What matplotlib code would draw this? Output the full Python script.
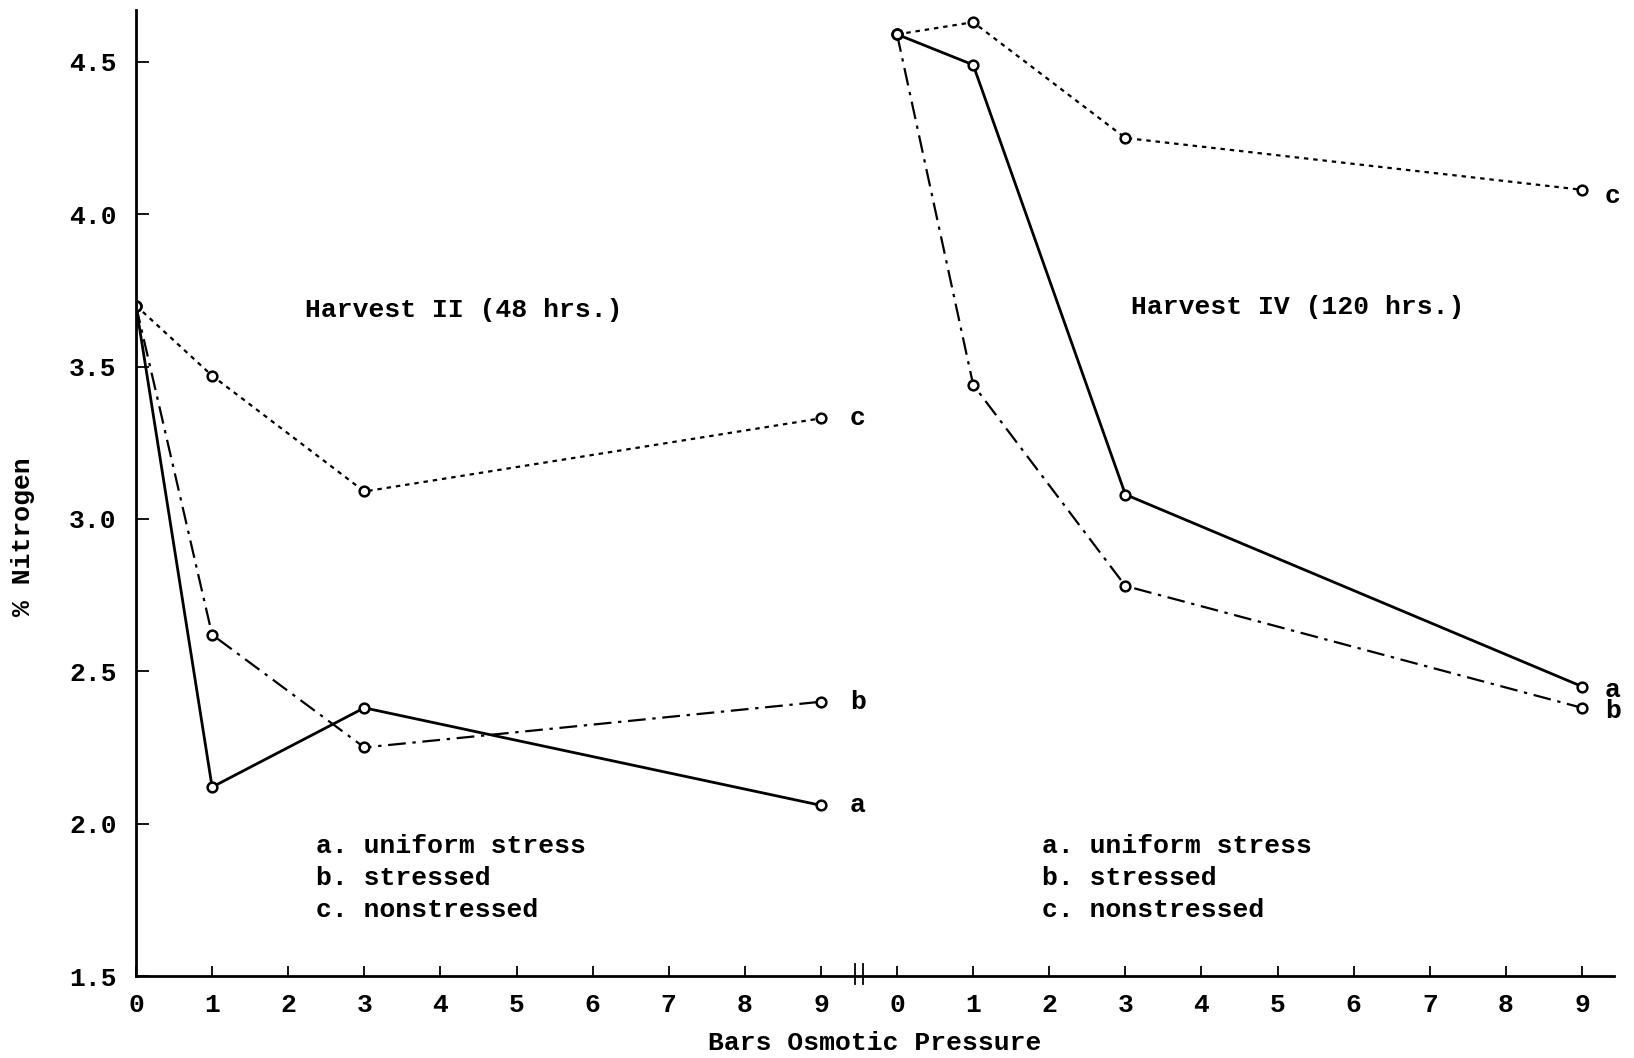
import matplotlib
matplotlib.use("Agg")
import matplotlib.pyplot as plt
import matplotlib.transforms as mtransforms

# ---- data ----
pressure = [0, 1, 3, 9]
h2_uniform = [3.70, 2.12, 2.38, 2.06]
h2_stressed = [3.70, 2.62, 2.25, 2.40]
h2_nonstressed = [3.70, 3.47, 3.09, 3.33]
h4_uniform = [4.59, 4.49, 3.08, 2.45]
h4_stressed = [4.59, 3.44, 2.78, 2.38]
h4_nonstressed = [4.59, 4.63, 4.25, 4.08]
tick_labels = [str(i) for i in range(10)]
legend_lines = ["a. uniform stress", "b. stressed", "c. nonstressed"]
panel_titles = ["Harvest II (48 hrs.)", "Harvest IV (120 hrs.)"]
panel_offset = 10  # right panel x shift

FONT = "Liberation Mono"
plt.rcParams['font.family'] = [FONT, 'DejaVu Sans Mono']
plt.rcParams['font.weight'] = 'bold'
plt.rcParams['axes.labelweight'] = 'bold'
FS = 19

fig = plt.figure(figsize=(16.34, 10.58), dpi=100)
ax = fig.add_axes([136/1634, (1058-976)/1058, (1614-136)/1634, (976-10)/1058])

ax.set_xlim(0, 19.42)
ax.set_ylim(1.5, 4.67)

mk = dict(marker='o', markersize=7, markerfacecolor='white', markeredgecolor='black',
          markeredgewidth=1.8, color='black')

for off, (ua, st, ns) in [(0, (h2_uniform, h2_stressed, h2_nonstressed)),
                          (panel_offset, (h4_uniform, h4_stressed, h4_nonstressed))]:
    xs = [p + off for p in pressure]
    ax.plot(xs, ns, linestyle=(0, (2.0, 2.2)), linewidth=1.6, **mk)
    ax.plot(xs, st, linestyle=(0, (8, 3, 1.5, 3)), linewidth=1.6, **mk)
    ax.plot(xs, ua, linestyle='-', linewidth=2.0, **mk)

# end labels
ax.text(9 + 0.38, h2_nonstressed[-1], "c", fontsize=FS, va='center', ha='left')
ax.text(9 + 0.38, h2_stressed[-1], "b", fontsize=FS, va='center', ha='left')
ax.text(9 + 0.38, h2_uniform[-1], "a", fontsize=FS, va='center', ha='left')
ax.text(19 + 0.3, h4_nonstressed[-1] - 0.02, "c", fontsize=FS, va='center', ha='left', clip_on=False)
ax.text(19 + 0.3, h4_uniform[-1] - 0.01, "a", fontsize=FS, va='center', ha='left', clip_on=False)
ax.text(19 + 0.3, h4_stressed[-1] - 0.01, "b", fontsize=FS, va='center', ha='left', clip_on=False)

# panel titles
ax.text(4.3, 3.685, panel_titles[0], fontsize=FS, ha='center', va='center')
ax.text(15.26, 3.695, panel_titles[1], fontsize=FS, ha='center', va='center')

# legends text
for i, line in enumerate(legend_lines):
    ax.text(2.36, 1.926 - i * 0.104, line, fontsize=FS, ha='left', va='center')
    ax.text(11.9, 1.926 - i * 0.104, line, fontsize=FS, ha='left', va='center')

# spines
for s in ['top', 'right']:
    ax.spines[s].set_visible(False)
ax.spines['left'].set_linewidth(2.0)
ax.spines['bottom'].set_linewidth(2.0)

ax.set_xticks(list(range(10)) + [i + panel_offset for i in range(10)])
ax.set_xticklabels(tick_labels + tick_labels, fontsize=FS, fontweight='bold')
ax.set_yticks([1.5, 2.0, 2.5, 3.0, 3.5, 4.0, 4.5])
ax.set_yticklabels(["1.5", "2.0", "2.5", "3.0", "3.5", "4.0", "4.5"], fontsize=FS, fontweight='bold')
ax.tick_params(axis='x', direction='in', length=7, width=1.3, pad=12)
ax.tick_params(axis='y', direction='in', length=9, width=1.3, pad=14)

# axis break mark
trans = mtransforms.blended_transform_factory(ax.transData, ax.transAxes)
for dx in (-0.05, 0.05):
    ax.plot([9.5 + dx, 9.5 + dx], [-0.008, 0.012], color='black', linewidth=1.3,
            transform=trans, clip_on=False)

ax.set_xlabel("Bars Osmotic Pressure", fontsize=FS, fontweight='bold', labelpad=10)
ax.set_ylabel("% Nitrogen", fontsize=FS, fontweight='bold')
ax.yaxis.set_label_coords(-0.068, 0.455)

fig.savefig("out.png", dpi=100)
